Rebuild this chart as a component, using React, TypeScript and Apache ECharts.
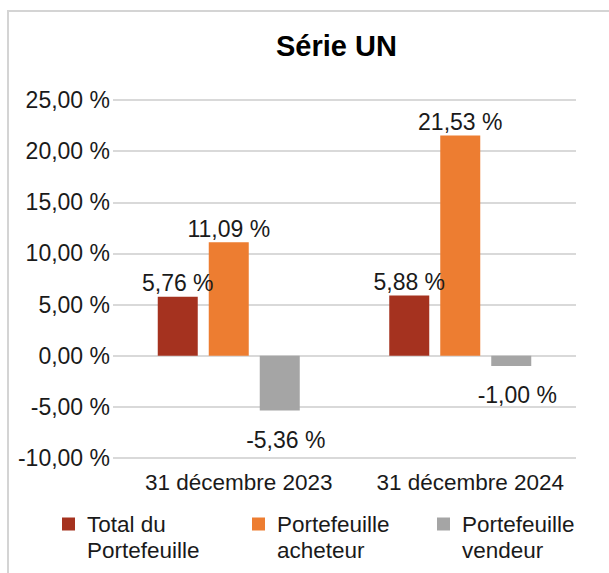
import React, { useEffect, useRef } from "react";
import * as echarts from "echarts";

const titleText = "Série UN";
const categories = ["31 décembre 2023", "31 décembre 2024"];
const seriesNames = ["Total du Portefeuille", "Portefeuille acheteur", "Portefeuille vendeur"];
const legendLabels = ["Total du\nPortefeuille", "Portefeuille\nacheteur", "Portefeuille\nvendeur"];
const totalValues = [5.76, 5.88];
const acheteurValues = [11.09, 21.53];
const vendeurValues = [-5.36, -1.0];
const yMin = -10;
const yMax = 25;
const yInterval = 5;

const colors = ["#a5321f", "#ed7d31", "#a5a5a5"];
const FONT = "'Liberation Sans', Arial, sans-serif";

const fmt = (v: number) => v.toFixed(2).replace(".", ",") + " %";

export default function App() {
  const ref = useRef<HTMLDivElement>(null);
  useEffect(() => {
    document.body.style.margin = "0";
    if (!ref.current) return;
    const chart = echarts.init(ref.current, undefined, { renderer: "svg" });
    const values = [totalValues, acheteurValues, vendeurValues];
    const legendLefts = [62, 252, 437];
    chart.setOption({
      animation: false,
      backgroundColor: "#ffffff",
      title: {
        text: titleText,
        left: 276,
        top: 31,
        padding: 0,
        textStyle: { fontFamily: FONT, fontSize: 29, fontWeight: "bold", color: "#000" },
      },
      graphic: [
        {
          type: "rect",
          shape: { x: 8, y: 11, width: 700, height: 700 },
          style: { fill: "none", stroke: "#d4d4d4", lineWidth: 2 },
          silent: true,
          z: -1,
        },
      ],
      legend: seriesNames.map((n, i) => ({
        data: [n],
        left: legendLefts[i],
        top: 485,
        padding: 0,
        icon: "rect",
        itemWidth: 13,
        itemHeight: 13,
        selectedMode: false,
        formatter: () => "\n" + legendLabels[i],
        textStyle: {
          fontFamily: FONT,
          fontSize: 22.5,
          lineHeight: 26,
          color: "#1a1a1a",
          padding: [0, 0, 0, 7],
        },
      })),
      grid: {
        left: 113,
        right: 33,
        top: 100,
        bottom: 115,
        containLabel: false,
        outerBoundsMode: "none",
      },
      xAxis: {
        type: "category",
        data: categories,
        axisLine: { show: false },
        axisTick: { show: false },
        axisLabel: {
          interval: 0,
          hideOverlap: false,
          fontFamily: FONT,
          fontSize: 22.5,
          color: "#1a1a1a",
          margin: 13,
          padding: [0, 0, 0, 20],
        },
      },
      yAxis: {
        type: "value",
        min: yMin,
        max: yMax,
        interval: yInterval,
        axisLine: { show: false },
        axisTick: { show: false },
        splitLine: { lineStyle: { color: "#d9d9d9", width: 2 } },
        axisLabel: {
          fontFamily: FONT,
          fontSize: 23,
          color: "#1a1a1a",
          margin: 3,
          padding: [14, 0, 0, 0],
          formatter: (v: number) => fmt(v),
        },
      },
      series: seriesNames.map((n, i) => ({
        name: n,
        type: "bar",
        data: values[i],
        barWidth: 40,
        barGap: "27.5%",
        itemStyle: { color: colors[i] },
        label: {
          show: true,
          position: i === 2 ? "bottom" : "top",
          distance: i === 2 ? 18 : 2,
          offset: i === 2 ? [6, 0] : [0, 0],
          fontFamily: FONT,
          fontSize: 23,
          color: "#1a1a1a",
          formatter: (p: any) => fmt(p.value),
        },
      })),
    });
    return () => chart.dispose();
  }, []);
  return <div ref={ref} style={{ width: 609, height: 573 }} />;
}
